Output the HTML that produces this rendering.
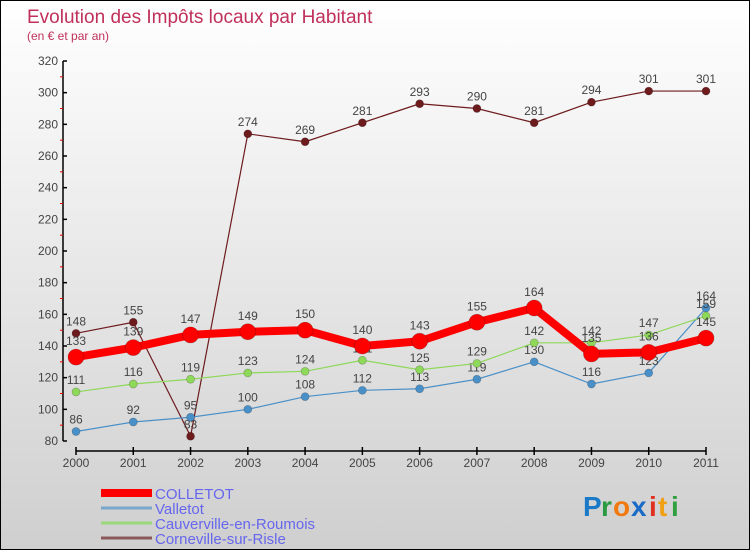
<!DOCTYPE html>
<html><head><meta charset="utf-8"><style>
body{margin:0;}
#wrap{position:relative;width:748px;height:548px;border:1px solid #000;background:linear-gradient(#ffffff,#cfcfcf);overflow:hidden;font-family:"Liberation Sans",sans-serif;}
svg text{font-family:"Liberation Sans",sans-serif;}
</style></head><body>
<div id="wrap">
<svg id="chart" width="748" height="548">
<text x="26" y="22" font-size="19" fill="#c0305a">Evolution des Impôts locaux par Habitant</text>
<text x="26" y="39" font-size="12" fill="#c0305a">(en € et par an)</text>
<g id="axes"></g>
<g id="series"></g>
<g id="legend"></g>
<g font-size="28" font-weight="bold">
<text x="582" y="515" fill="#1a7ac8">P</text><text x="600" y="515" fill="#2a9a40">r</text><text x="612" y="515" fill="#f07a10">o</text><text x="630" y="515" fill="#1a6ac8">x</text><text x="648" y="515" fill="#e03020">i</text><text x="657" y="515" fill="#f0a010">t</text><text x="670" y="515" fill="#30a040">i</text>
</g>
</svg>
</div>
<script>
const years=["2000","2001","2002","2003","2004","2005","2006","2007","2008","2009","2010","2011"];
const yTicks=[80,100,120,140,160,180,200,220,240,260,280,300,320];
const colletot=[133,139,147,149,150,140,143,155,164,135,136,145];
const valletot=[86,92,95,100,108,112,113,119,130,116,123,164];
const cauverville=[111,116,119,123,124,131,125,129,142,142,147,159];
const corneville=[148,155,83,274,269,281,293,290,281,294,301,301];
const seriesNames=["COLLETOT","Valletot","Cauverville-en-Roumois","Corneville-sur-Risle"];

const NS="http://www.w3.org/2000/svg";
function X(i){return 75+i*(705-75)/(years.length-1);}
function Y(v){return 440-(v-80)*(380/240);}
function mk(tag,attrs,parent){const e=document.createElementNS(NS,tag);for(const k in attrs)e.setAttribute(k,attrs[k]);parent.appendChild(e);return e;}
const axes=document.getElementById('axes');
let yl=mk('line',{x1:62,y1:Y(320),x2:62,y2:440,stroke:'#000','stroke-width':1.5},axes);


yTicks.forEach(v=>{
  mk('line',{x1:62,y1:Y(v),x2:66,y2:Y(v),stroke:'#000','stroke-width':1.5},axes);
  if(v<320)mk('line',{x1:59,y1:Y(v+10),x2:62,y2:Y(v+10),stroke:'#e00','stroke-width':1},axes);
  const t=mk('text',{x:57,y:Y(v)+4,'text-anchor':'end','font-size':12,fill:'#444'},axes);
  t.textContent=v;
  
  
});
let xl=mk('line',{x1:75,y1:450,x2:705,y2:450,stroke:'#000','stroke-width':1.5},axes);


years.forEach((y,i)=>{
  mk('line',{x1:X(i),y1:446,x2:X(i),y2:454,stroke:'#000','stroke-width':1.5},axes);
  const t=mk('text',{x:X(i),y:466,'text-anchor':'middle','font-size':12,fill:'#444'},axes);
  t.textContent=y;
  
  
});
const sg=document.getElementById('series');
function draw(vals,color,w,r,name){
  const g=mk('g',{},sg);
  
  
  mk('polyline',{points:vals.map((v,i)=>X(i)+','+Y(v)).join(' '),fill:'none',stroke:color,'stroke-width':w,'stroke-linejoin':'round'},g);
  vals.forEach((v,i)=>{
    const c=mk('circle',{cx:X(i),cy:Y(v),r:r,fill:color,stroke:'rgba(0,0,0,0.25)','stroke-width':0.7},g);
    
    
    const t=mk('text',{x:X(i),y:Y(v)-r-4,'text-anchor':'middle','font-size':12,fill:'#444'},g);
    t.textContent=v;
    
    
  });
}
draw(corneville,'#6e1b1e',1.2,4,'series-corneville');
draw(valletot,'#4a90c8',1.2,4,'series-valletot');
draw(cauverville,'#8ed85a',1.2,4,'series-cauverville');
draw(colletot,'#f00',8,8,'series-colletot');
const lg=document.getElementById('legend');
const lc=['#f00','#7aa8cc','#9ad87a','#8a5a5a'],lw=[8,3,3,3];
seriesNames.forEach((n,i)=>{
  const y=492+i*15;
  const g=mk('g',{},lg);
  
  
  mk('line',{x1:100,y1:y,x2:151,y2:y,stroke:lc[i],'stroke-width':lw[i]},g);
  const t=mk('text',{x:154,y:y+6,'font-size':15,fill:'#6666ee'},g);
  t.textContent=n;
});
</script>
</body></html>
